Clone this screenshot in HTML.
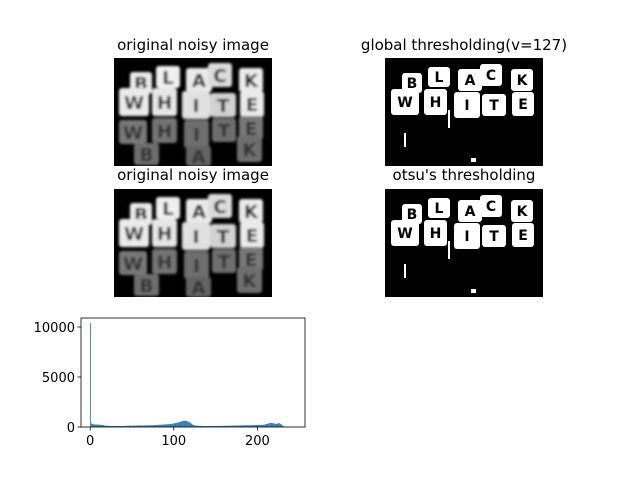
<!DOCTYPE html>
<html><head><meta charset="utf-8"><style>
body{margin:0;background:#fff;}
svg{display:block;font-family:"DejaVu Sans","Liberation Sans",sans-serif;}
</style></head><body>
<svg id="fig" width="640" height="480" viewBox="0 0 640 480" xmlns="http://www.w3.org/2000/svg">
<defs><filter id="bl" x="-10%" y="-10%" width="120%" height="120%"><feGaussianBlur stdDeviation="1.2"/></filter>
<clipPath id="c1"><rect x="0" y="0" width="158" height="108"/></clipPath></defs>
<text x="193" y="50" font-size="15" text-anchor="middle">original noisy image</text>
<text x="464" y="50" font-size="15" text-anchor="middle">global thresholding(v=127)</text>
<text x="193" y="180" font-size="15" text-anchor="middle">original noisy image</text>
<text x="464" y="180" font-size="15" text-anchor="middle">otsu's thresholding</text>
<g id="imgs"></g>
<g id="hist"></g>
</svg>
<script>
const NS='http://www.w3.org/2000/svg';
function mk(t,a,p){const e=document.createElementNS(NS,t);for(const k in a)e.setAttribute(k,a[k]);p.appendChild(e);return e;}
const blocks=[[16,14,22,22,235,'B'],[42,8,24,22,240,'L'],[72,10,26,24,235,'A'],[94,5,24,24,220,'C'],[125,10,24,24,235,'K'],
[5,30,30,28,235,'W'],[38,30,25,28,230,'H'],[68,33,28,28,225,'I'],[96,35,26,24,210,'T'],[126,33,24,26,235,'E'],
[5,62,28,24,120,'W'],[38,60,25,25,115,'H'],[70,62,25,28,110,'I'],[98,60,24,24,110,'T'],[125,58,24,24,120,'E'],
[20,85,25,22,110,'B'],[72,88,25,20,100,'A'],[123,78,25,26,110,'K']];
const panels=[[114,58,'image-original-1',0],[385,58,'image-global-threshold',127],[114,189,'image-original-2',0],[385,189,'image-otsu-threshold',115]];
const imgs=document.getElementById('imgs');
panels.forEach(p=>{
 const g=mk('g',{transform:`translate(${p[0]},${p[1]})`},imgs);
 
 
 mk('rect',{x:0,y:0,width:158,height:108,fill:'#000'},g);
 const inner=mk('g',{'clip-path':'url(#c1)'},g);
 if(p[3]===0){
  const bg=mk('g',{filter:'url(#bl)'},inner);
  blocks.forEach(b=>{const v=b[4];mk('rect',{x:b[0],y:b[1],width:b[2],height:b[3],rx:3,fill:`rgb(${v},${v},${v})`},bg);
   const t=mk('text',{x:b[0]+b[2]/2,y:b[1]+b[3]/2+7,'font-size':18,'font-weight':'bold','text-anchor':'middle',fill:b[4]>150?'#222':'#333'},bg);t.textContent=b[5];});
 } else {
  blocks.forEach(b=>{if(b[4]>p[3]+50){mk('rect',{x:b[0]+1,y:b[1]+1,width:b[2]-2,height:b[3]-2,rx:3,fill:'#fff'},inner);
   const t=mk('text',{x:b[0]+b[2]/2,y:b[1]+b[3]/2+5,'font-size':14,'font-weight':'bold','text-anchor':'middle',fill:'#000'},inner);t.textContent=b[5];}});
  mk('rect',{x:19,y:75,width:2,height:14,fill:'#fff'},inner);
  mk('rect',{x:63,y:52,width:2,height:18,fill:'#fff'},inner);
  mk('rect',{x:86,y:100,width:5,height:4,fill:'#fff'},inner);
 }
});
const counts=[10400,350,300,280,260,250,250,240,240,230,230,220,220,210,200,190,
150,140,130,130,120,120,110,110,110,100,100,100,100,100,100,100,
100,100,100,110,100,100,110,110,110,110,120,120,130,110,120,150,
130,120,120,140,150,140,140,150,150,160,150,150,160,160,150,150,
160,150,160,160,160,170,170,160,160,180,170,180,190,190,200,200,
200,210,210,220,220,230,240,240,250,250,260,270,280,280,290,280,
300,320,330,340,360,380,400,420,440,460,480,500,540,560,600,620,
640,620,600,580,560,520,480,440,380,300,250,200,170,150,140,130,
130,120,120,110,110,110,100,100,100,100,100,100,100,100,100,100,
100,100,100,100,100,100,110,110,110,110,110,110,110,110,110,120,
120,120,120,120,120,130,130,130,130,140,140,140,150,150,150,150,
150,160,160,160,160,160,160,170,170,170,170,170,170,180,180,180,
180,180,180,190,190,190,190,200,200,200,200,210,210,210,220,230,
240,260,280,300,330,360,380,400,420,400,380,360,340,320,300,340,
360,380,360,320,280,200,120,60,20,0,0,0,0,0,0,0,
0,0,0,0,0,0,0,0,0,0,0,0,0,0,0,0];
const xTicks=[0,100,200];
const yTicks=[0,5000,10000];
const H=document.getElementById('hist');
const ax={l:81,r:305,t:318,b:427,x0:-11,x1:257,y0:0,y1:10900};
const X=v=>ax.l+(v-ax.x0)/(ax.x1-ax.x0)*(ax.r-ax.l);
const Y=v=>ax.b-(v-ax.y0)/(ax.y1-ax.y0)*(ax.b-ax.t);
counts.forEach((c,i)=>{if(c<=0)return;const r=mk('rect',{x:X(i),y:Y(c),width:Math.max(0.6,X(i+1)-X(i)),height:Y(0)-Y(c),fill:'#1f77b4'},H);
 
 });
const fr=mk('rect',{x:ax.l,y:ax.t,width:ax.r-ax.l,height:ax.b-ax.t,fill:'none',stroke:'#000','stroke-width':0.8},H);


xTicks.forEach(v=>{mk('line',{x1:X(v),x2:X(v),y1:ax.b,y2:ax.b+3.5,stroke:'#000','stroke-width':0.8},H);
 const t=mk('text',{x:X(v),y:ax.b+18,'font-size':13,'text-anchor':'middle'},H);t.textContent=v;
 
 });
yTicks.forEach(v=>{mk('line',{x1:ax.l-3.5,x2:ax.l,y1:Y(v),y2:Y(v),stroke:'#000','stroke-width':0.8},H);
 const t=mk('text',{x:ax.l-6,y:Y(v)+5,'font-size':13,'text-anchor':'end'},H);t.textContent=v;
 
 });
</script>
</body></html>
